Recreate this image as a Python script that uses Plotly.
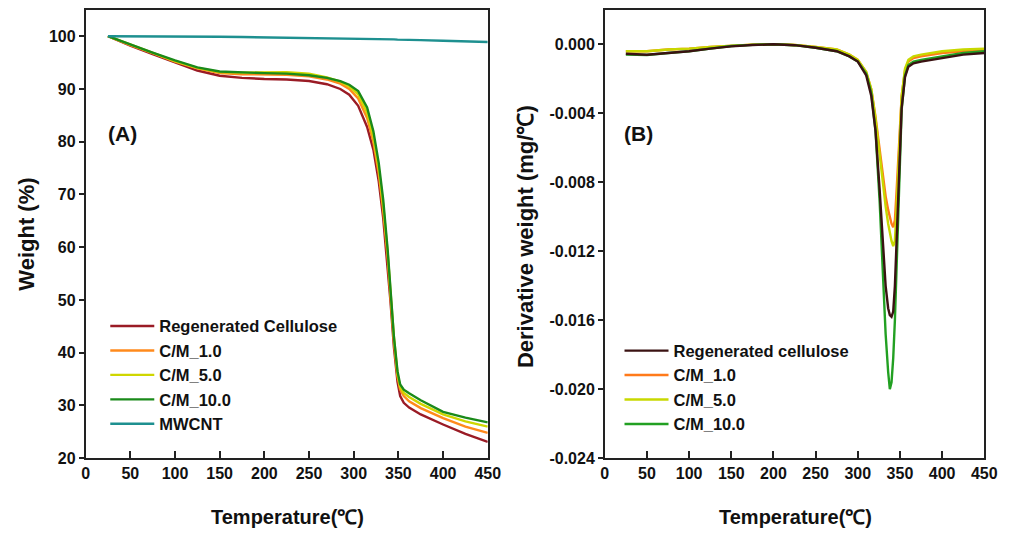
import plotly.graph_objects as go

# ---------------- Data ----------------
# (A) TGA weight (%)
temp_tga = [25, 50, 75, 100, 125, 150, 175, 200, 225, 250, 270, 285, 295, 305, 315,
            322, 328, 333, 338, 341, 345, 349, 352, 356, 362, 375, 400, 425, 450]
w_regen = [100, 98.2, 96.6, 95.0, 93.5, 92.5, 92.1, 91.9, 91.8, 91.5, 90.9, 90.0, 88.9, 86.8, 82.8,
           78.5, 72.5, 65.5, 56.5, 50, 41, 34.5, 31.8, 30.5, 29.6, 28.3, 26.4, 24.6, 23.1]
w_cm1 = [100, 98.3, 96.8, 95.2, 93.9, 93.0, 92.8, 92.7, 92.7, 92.4, 91.8, 91.0, 90.0, 88.2, 84.5,
         80, 74, 67, 58, 51, 42, 35.5, 33.0, 31.8, 30.8, 29.5, 27.6, 26.0, 24.8]
w_cm5 = [100, 98.4, 96.9, 95.3, 94.0, 93.2, 93.1, 93.1, 93.2, 92.9, 92.2, 91.4, 90.5, 89.0, 85.5,
         81, 75, 68, 59, 52, 43, 36, 33.5, 32.4, 31.6, 30.3, 28.3, 27.0, 26.0]
w_cm10 = [100, 98.4, 96.9, 95.4, 94.1, 93.3, 93.1, 93.0, 92.9, 92.6, 92.1, 91.5, 90.8, 89.6, 86.5,
          82, 76, 69, 59.5, 52, 43, 36.5, 34.0, 33.0, 32.3, 31.0, 28.8, 27.7, 26.8]
w_mwcnt = [100, 100, 100, 100, 99.95, 99.9, 99.85, 99.8, 99.75, 99.7, 99.65, 99.6, 99.6, 99.55, 99.5,
           99.5, 99.45, 99.45, 99.4, 99.4, 99.4, 99.35, 99.35, 99.3, 99.3, 99.25, 99.15, 99.05, 98.9]

# (B) DTG derivative weight (mg/°C)
temp_dtg = [25, 50, 75, 100, 125, 150, 175, 200, 225, 250, 275, 290, 300, 310, 316, 321, 326, 330,
            333, 336, 338, 340, 342, 344, 346, 349, 352, 356, 360, 366, 375, 400, 425, 450]
d_regen = [-0.00055, -0.0006, -0.0005, -0.0004, -0.00025, -0.00012, -0.00004, 0.0, -0.00005, -0.0002,
           -0.0004, -0.0007, -0.0010, -0.0018, -0.0030, -0.0050, -0.0085, -0.0118,
           -0.0140, -0.0153, -0.0157, -0.0158, -0.0155, -0.0140, -0.0115, -0.0068, -0.0037, -0.0019,
           -0.0013, -0.0011, -0.0010, -0.0008, -0.0006, -0.0005]
d_cm1 = [-0.0004, -0.0004, -0.0003, -0.00025, -0.00015, -0.00008, -0.00002, 0.0, -0.00004, -0.00015,
         -0.0003, -0.0006, -0.0009, -0.0016, -0.0026, -0.0042, -0.0062, -0.0078,
         -0.0088, -0.0096, -0.0100, -0.0104, -0.0106, -0.0102, -0.0085, -0.0055, -0.0030, -0.0015,
         -0.0010, -0.0008, -0.0007, -0.0005, -0.0004, -0.0003]
d_cm5 = [-0.0004, -0.0004, -0.0003, -0.00025, -0.00015, -0.00008, -0.00002, 0.0, -0.00004, -0.00015,
         -0.0003, -0.0006, -0.0009, -0.0016, -0.0026, -0.0043, -0.0065, -0.0082,
         -0.0094, -0.0104, -0.0110, -0.0114, -0.0117, -0.0114, -0.0095, -0.0058, -0.0030, -0.0014,
         -0.0009, -0.0007, -0.0006, -0.0004, -0.0003, -0.00025]
d_cm10 = [-0.0006, -0.00062, -0.0005, -0.0004, -0.00025, -0.0001, -0.00003, 0.0, -0.00005, -0.0002,
          -0.0004, -0.0007, -0.0010, -0.0017, -0.0028, -0.0050, -0.0092, -0.0135,
          -0.0168, -0.0190, -0.0200, -0.0196, -0.0182, -0.0160, -0.0128, -0.0075, -0.0038, -0.0018,
          -0.0012, -0.0010, -0.0009, -0.0007, -0.0005, -0.0004]

x_ticks = [0, 50, 100, 150, 200, 250, 300, 350, 400, 450]
ya_ticks = [20, 30, 40, 50, 60, 70, 80, 90, 100]
yb_ticks = [0.000, -0.004, -0.008, -0.012, -0.016, -0.020, -0.024]
yb_labels = ["0.000", "-0.004", "-0.008", "-0.012", "-0.016", "-0.020", "-0.024"]

# ---------------- Styling ----------------
FONT = "Liberation Sans, Arial, sans-serif"
W, H = 1015, 540
lw = 2.4

fig = go.Figure()

series_a = [
    ("Regenerated Cellulose", w_regen, "#9a1b25"),
    ("C/M_1.0", w_cm1, "#ff8a1c"),
    ("C/M_5.0", w_cm5, "#cfd600"),
    ("C/M_10.0", w_cm10, "#1a8a1a"),
    ("MWCNT", w_mwcnt, "#1e9090"),
]
for i, (name, ys, col) in enumerate(series_a):
    fig.add_trace(go.Scatter(x=temp_tga, y=ys, mode="lines", name=name,
                             line=dict(color=col, width=lw),
                             xaxis="x", yaxis="y", legend="legend",
                             legendgroup="a%d" % i, legendrank=i + 1))

series_b = [
    ("C/M_1.0", d_cm1, "#ff7a1a", 2),
    ("C/M_5.0", d_cm5, "#c8d800", 3),
    ("C/M_10.0", d_cm10, "#22a022", 4),
    ("Regenerated cellulose", d_regen, "#3a1212", 1),
]
for name, ys, col, rank in series_b:
    fig.add_trace(go.Scatter(x=temp_dtg, y=ys, mode="lines", name=name,
                             line=dict(color=col, width=lw),
                             xaxis="x2", yaxis="y2", legend="legend2",
                             legendgroup="b%d" % rank, legendrank=rank))

def px_x(p):
    return p / W

def px_y(p):
    return 1 - p / H

tickfont = dict(family=FONT, size=16, color="#111", weight="bold")
axis_common = dict(showline=True, linecolor="#222", linewidth=1.5, mirror=True,
                   showgrid=False, zeroline=False, tickfont=tickfont,
                   tickcolor="#222", tickwidth=1.5)

legend_font = dict(family=FONT, size=16.5, color="#111", weight="bold")

fig.update_layout(
    width=W, height=H,
    margin=dict(l=0, r=0, t=0, b=0),
    paper_bgcolor="white", plot_bgcolor="white",
    font=dict(family=FONT, color="#111"),
    xaxis=dict(domain=[px_x(83), px_x(492)], range=[0, 450], tickvals=x_ticks,
               ticks="inside", ticklen=7, anchor="y", **axis_common),
    yaxis=dict(domain=[px_y(466), px_y(10)], range=[20, 105], tickvals=ya_ticks,
               ticks="outside", ticklen=5, anchor="x", **axis_common),
    xaxis2=dict(domain=[px_x(611), px_x(997)], range=[0, 450], tickvals=x_ticks,
                ticks="inside", ticklen=7, anchor="y2", **axis_common),
    yaxis2=dict(domain=[px_y(466), px_y(10)], range=[-0.024, 0.002], tickvals=yb_ticks,
                ticktext=yb_labels, ticks="outside", ticklen=5, anchor="x2", **axis_common),
    legend=dict(x=px_x(103), y=px_y(314), xanchor="left", yanchor="top",
                bgcolor="rgba(0,0,0,0)", tracegroupgap=0, itemwidth=44,
                font=legend_font),
    legend2=dict(x=px_x(626), y=px_y(339), xanchor="left", yanchor="top",
                 bgcolor="rgba(0,0,0,0)", tracegroupgap=0, itemwidth=44,
                 font=legend_font),
    showlegend=True,
)

title_font = dict(family=FONT, size=20, color="#111", weight="bold")
vtitle_font = dict(family=FONT, size=22, color="#111", weight="bold")
annotations = [
    dict(text="Weight (%)", x=px_x(22), y=px_y(238), textangle=-90, font=vtitle_font),
    dict(text="Derivative weight (mg/℃)", x=px_x(531), y=px_y(241), textangle=-90, font=vtitle_font),
    dict(text="Temperature(℃)", x=px_x(288), y=px_y(526), font=title_font),
    dict(text="Temperature(℃)", x=px_x(805), y=px_y(526), font=title_font),
]
for a in annotations:
    fig.add_annotation(xref="paper", yref="paper", showarrow=False,
                       xanchor="center", yanchor="middle", **a)

panel_font = dict(family=FONT, size=21, color="#111", weight="bold")
fig.add_annotation(xref="paper", yref="paper", showarrow=False, text="(A)",
                   x=px_x(121), y=px_y(136), xanchor="center", yanchor="middle", font=panel_font)
fig.add_annotation(xref="paper", yref="paper", showarrow=False, text="(B)",
                   x=px_x(645), y=px_y(136), xanchor="center", yanchor="middle", font=panel_font)

fig.write_html("out.html")
